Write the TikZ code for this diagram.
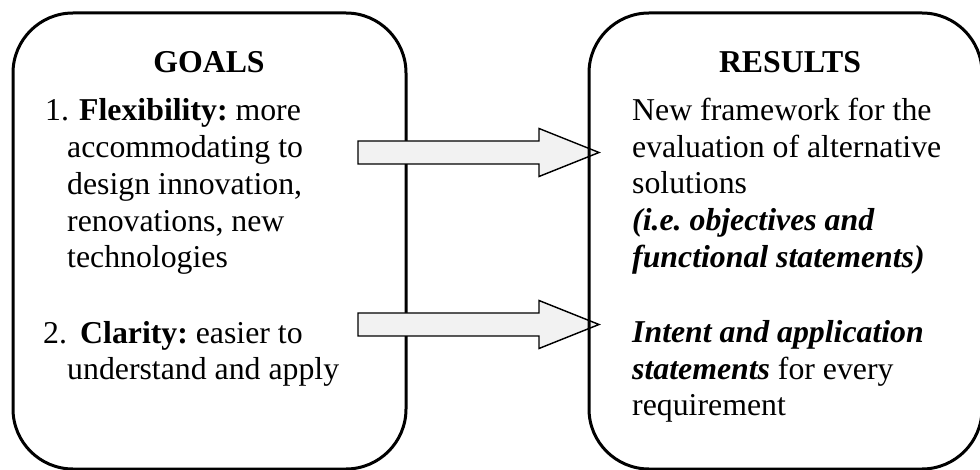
\documentclass[tikz,border=0pt]{standalone}
\usepackage{fontspec}
\setmainfont{Liberation Serif}
\frenchspacing
\definecolor{arrowfill}{HTML}{F2F2F2}
\begin{document}
\begin{tikzpicture}[x=1pt,y=1pt,
  panel/.style={draw=black, line width=3pt, rounded corners=60pt},
  blockarrow/.style={draw=black, line width=1.4pt, fill=arrowfill, line join=miter},
  txt/.style={anchor=base west, inner sep=0pt, font=\fontsize{31.8}{36.7}\selectfont\frenchspacing},
  head/.style={anchor=base, inner sep=0pt, font=\fontsize{31.8}{36.7}\selectfont\bfseries}]
\useasboundingbox (0,0) rectangle (980,-470);
% left panel
\draw[panel] (13,-13) rectangle (406,-469);
\node[head] (goals) at (209,-73) {GOALS};
\node[txt] (n1) at (45,-121) {1.};
\node[txt] (l1) at (79,-121) {\textbf{Flexibility:} more};
\node[txt] (l2) at (67,-157.7) {accommodating to};
\node[txt] (l3) at (67,-194.4) {design innovation,};
\node[txt] (l4) at (67,-231.1) {renovations, new};
\node[txt] (l5) at (67,-267.8) {technologies};
\node[txt] (n2) at (43,-343) {2.};
\node[txt] (l6) at (80,-343) {\textbf{Clarity:} easier to};
\node[txt] (l7) at (67,-379.7) {understand and apply};
% arrows
\coordinate (a1s) at (358,-152.5);
\coordinate (a1t) at (599,-152.5);
\coordinate (a2s) at (358,-324.5);
\coordinate (a2t) at (599,-324.5);
\draw[blockarrow] (a1s) ++(0,11.5) -- ++(181,0) -- ++(0,12.5) -- (a1t) -- ++(-60,-24) -- ++(0,12.5) -- ++(-181,0) -- cycle;
\draw[blockarrow] (a2s) ++(0,11.5) -- ++(181,0) -- ++(0,12.5) -- (a2t) -- ++(-60,-24) -- ++(0,12.5) -- ++(-181,0) -- cycle;
% right panel
\draw[panel] (589,-13) rectangle (982,-469);
\node[head] (results) at (790,-73) {RESULTS};
\node[txt] (r1) at (632,-120.5) {New framework for the};
\node[txt] (r2) at (632,-157.2) {evaluation of alternative};
\node[txt] (r3) at (632,-193.9) {solutions};
\node[txt] (r4) at (632,-230.6) {\textbf{\textit{(i.e. objectives and}}};
\node[txt] (r5) at (632,-267.3) {\textbf{\textit{functional statements)}}};
\node[txt] (r6) at (632,-342.5) {\textbf{\textit{Intent and application}}};
\node[txt] (r7) at (632,-379.2) {\textbf{\textit{statements}} for every};
\node[txt] (r8) at (632,-415.9) {requirement};
\end{tikzpicture}
\end{document}
